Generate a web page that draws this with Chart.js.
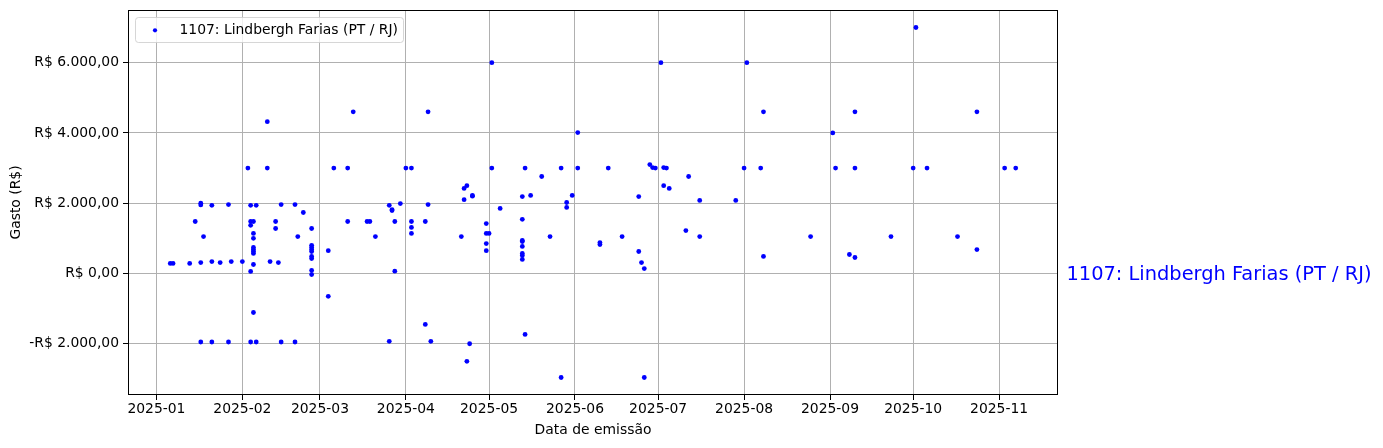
<!DOCTYPE html>
<html lang="pt-BR">
<head>
<meta charset="UTF-8" />
<title>Gastos - 1107: Lindbergh Farias (PT / RJ)</title>
<script src="https://cdn.jsdelivr.net/npm/chart.js@4"></script>
<style>
  html, body { margin: 0; padding: 0; background: #fff; }
  #wrap { width: 1383px; height: 448px; }
</style>
</head>
<body>
<div id="wrap"><canvas id="gastos" width="1383" height="448"></canvas></div>

<script>
  const seriesLabel = '1107: Lindbergh Farias (PT / RJ)';
  const monthTicks = ['2025-01', '2025-02', '2025-03', '2025-04', '2025-05', '2025-06',
    '2025-07', '2025-08', '2025-09', '2025-10', '2025-11'];
  const yTicks = [-2000, 0, 2000, 4000, 6000];
  const yTickLabels = ['-R$ 2.000,00', 'R$ 0,00', 'R$ 2.000,00', 'R$ 4.000,00', 'R$ 6.000,00'];

  // data de emissão / gasto (R$)
  const emissionDates = [
    '2025-01-06', '2025-01-07', '2025-01-13', '2025-01-15', '2025-01-17', '2025-01-17', '2025-01-17', '2025-01-17',
    '2025-01-18', '2025-01-21', '2025-01-21', '2025-01-21', '2025-01-24', '2025-01-27', '2025-01-27', '2025-01-28',
    '2025-02-01', '2025-02-03', '2025-02-04', '2025-02-04', '2025-02-04', '2025-02-04', '2025-02-04',
    '2025-02-05', '2025-02-05', '2025-02-05', '2025-02-05', '2025-02-05', '2025-02-05', '2025-02-05', '2025-02-05', '2025-02-05',
    '2025-02-06', '2025-02-06', '2025-02-10', '2025-02-10', '2025-02-11', '2025-02-13', '2025-02-13', '2025-02-14',
    '2025-02-15', '2025-02-15', '2025-02-20', '2025-02-21', '2025-02-20', '2025-02-23',
    '2025-02-26', '2025-02-26', '2025-02-26', '2025-02-26', '2025-02-26', '2025-02-26', '2025-02-26', '2025-02-26', '2025-02-26',
    '2025-03-04', '2025-03-04', '2025-03-06', '2025-03-11', '2025-03-11', '2025-03-13', '2025-03-18', '2025-03-19',
    '2025-03-21', '2025-03-26', '2025-03-26', '2025-03-27', '2025-03-27', '2025-03-28', '2025-03-28', '2025-03-30',
    '2025-04-01', '2025-04-03', '2025-04-03', '2025-04-03', '2025-04-03', '2025-04-09', '2025-04-08', '2025-04-08',
    '2025-04-09', '2025-04-10', '2025-04-21', '2025-04-22', '2025-04-22', '2025-04-23', '2025-04-23', '2025-04-24',
    '2025-04-25', '2025-04-25', '2025-04-30', '2025-04-30', '2025-04-30', '2025-04-30', '2025-05-01',
    '2025-05-02', '2025-05-02', '2025-05-05', '2025-05-14', '2025-05-13', '2025-05-13', '2025-05-13', '2025-05-13',
    '2025-05-13', '2025-05-13', '2025-05-13', '2025-05-13', '2025-05-14', '2025-05-16', '2025-05-20', '2025-05-23',
    '2025-05-27', '2025-05-27', '2025-05-29', '2025-05-29', '2025-05-31',
    '2025-06-02', '2025-06-02', '2025-06-10', '2025-06-10', '2025-06-13', '2025-06-18', '2025-06-24', '2025-06-24',
    '2025-06-25', '2025-06-26', '2025-06-26', '2025-06-28', '2025-06-29', '2025-06-30',
    '2025-07-02', '2025-07-03', '2025-07-03', '2025-07-04', '2025-07-05', '2025-07-11', '2025-07-12', '2025-07-16',
    '2025-07-16', '2025-07-29',
    '2025-08-02', '2025-08-01', '2025-08-07', '2025-08-08', '2025-08-08', '2025-08-25',
    '2025-09-02', '2025-09-03', '2025-09-08', '2025-09-10', '2025-09-10', '2025-09-10', '2025-09-23',
    '2025-10-01', '2025-10-02', '2025-10-06', '2025-10-17', '2025-10-24', '2025-10-24',
    '2025-11-03', '2025-11-07'
  ];
  const amounts = [
    285, 285, 285, 1480, 2000, 1950, 310, -1950,
    1050, 1940, 340, -1950, 310, 1960, -1950, 340,
    340, 3000, 1940, 1480, 1370, 60, -1950,
    1480, 1140, 1000, 740, 680, 625, 570, 255, -1110,
    1940, -1950, 4320, 3000, 340, 1480, 1280, 310,
    1960, -1950, 1960, 1050, -1950, 1735,
    1280, 800, 740, 680, 625, 485, 425, 85, -30,
    650, -650, 3000, 3000, 1480, 4600, 1480, 1480,
    1050, 1940, -1930, 1820, 1790, 1480, 65, 1990,
    3000, 3000, 1480, 1310, 1140, 4600, 1480, -1450,
    1960, -1930, 1050, 2420, 2100, 2500, -2500, -2000,
    2220, 2200, 1420, 1140, 850, 650, 1140,
    6000, 3000, 1850, 3000, 2190, 1540, 940, 910,
    770, 570, 510, 400, -1735, 2220, 2760, 1050,
    3000, -2960, 2020, 1880, 2220,
    4010, 3000, 880, 825, 3000, 1050, 2190, 625,
    310, 140, -2960, 3100, 3015, 3000,
    6000, 3015, 2500, 3000, 2420, 1220, 2760, 2080,
    1050, 2080,
    6000, 3000, 3000, 4600, 485, 1050,
    4000, 3000, 540, 4600, 3000, 455, 1050,
    3000, 7000, 3000, 1050, 4600, 680,
    3000, 3000
  ];

  function toMs(s) {
    const [y, m, d] = s.split('-').map(Number);
    return Date.UTC(y, m - 1, d || 1);
  }

  const points = emissionDates.map((d, i) => ({ x: toMs(d), y: amounts[i] }));

  // margens de 5% como no matplotlib
  const xs = points.map(p => p.x), ys = points.map(p => p.y);
  const xMin = Math.min(...xs), xMax = Math.max(...xs);
  const yMin = Math.min(...ys), yMax = Math.max(...ys);
  const xPad = (xMax - xMin) * 0.05, yPad = (yMax - yMin) * 0.05;

  Chart.defaults.font.family = "'DejaVu Sans', sans-serif";
  Chart.defaults.font.size = 13.9;
  Chart.defaults.color = '#000';

  const extras = {
    id: 'extras',
    afterDraw(chart) {
      const { ctx, chartArea: a } = chart;
      ctx.save();
      // moldura
      ctx.strokeStyle = '#000';
      ctx.lineWidth = 1;
      const l = Math.round(a.left) + 0.5, t = Math.round(a.top) + 0.5;
      const r = Math.round(a.right) - 0.5, b = Math.round(a.bottom) - 0.5;
      ctx.strokeRect(l, t, r - l, b - t);

      // legenda
      ctx.fillStyle = 'rgba(255,255,255,0.8)';
      ctx.strokeStyle = 'rgba(204,204,204,0.8)';
      ctx.beginPath();
      ctx.roundRect(135.5, 17.5, 268, 25, 3);
      ctx.fill();
      ctx.stroke();
      ctx.fillStyle = 'blue';
      ctx.beginPath();
      ctx.arc(155, 30.3, 2.1, 0, Math.PI * 2);
      ctx.fill();
      ctx.fillStyle = '#000';
      ctx.font = "13.9px 'DejaVu Sans'";
      ctx.textBaseline = 'alphabetic';
      ctx.fillText(seriesLabel, 179.5, 33.8);

      // rótulo à direita
      const y0 = chart.scales.y.getPixelForValue(0);
      ctx.fillStyle = 'blue';
      ctx.font = "19.4px 'DejaVu Sans'";
      ctx.fillText(seriesLabel, a.right + 8.5, y0 + 6.2);
      ctx.restore();
    }
  };

  new Chart(document.getElementById('gastos'), {
    type: 'scatter',
    data: {
      datasets: [{
        label: seriesLabel,
        data: points,
        backgroundColor: 'blue',
        borderWidth: 0,
        pointRadius: 2.4,
        pointHoverRadius: 2.4
      }]
    },
    options: {
      responsive: false,
      animation: false,
      layout: { padding: { top: 10, right: 325, bottom: 0, left: 0 } },
      plugins: { legend: { display: false }, tooltip: { enabled: false } },
      scales: {
        x: {
          type: 'linear',
          min: xMin - xPad,
          max: xMax + xPad,
          afterBuildTicks: s => { s.ticks = monthTicks.map(m => ({ value: toMs(m) })); },
          afterFit: s => { s.height = 53; s.paddingLeft = 0; s.paddingRight = 0; },
          ticks: {
            autoSkip: false,
            maxRotation: 0,
            padding: 1,
            callback: (v, i) => monthTicks[i]
          },
          grid: { color: '#b0b0b0', lineWidth: 1, tickColor: '#000', tickLength: 5 },
          border: { display: false },
          title: { display: true, text: 'Data de emissão', padding: { top: 0, bottom: 9.7 } }
        },
        y: {
          min: yMin - yPad,
          max: yMax + yPad,
          afterBuildTicks: s => { s.ticks = yTicks.map(v => ({ value: v })); },
          afterFit: s => { s.width = 128; s.paddingTop = 0; s.paddingBottom = 0; },
          ticks: {
            padding: 4,
            callback: (v, i) => yTickLabels[i]
          },
          grid: { color: '#b0b0b0', lineWidth: 1, tickColor: '#000', tickLength: 5 },
          border: { display: false },
          title: { display: true, text: 'Gasto (R$)', padding: { top: 7.7, bottom: 0 } }
        }
      }
    },
    plugins: [extras]
  });
</script>
</body>
</html>
